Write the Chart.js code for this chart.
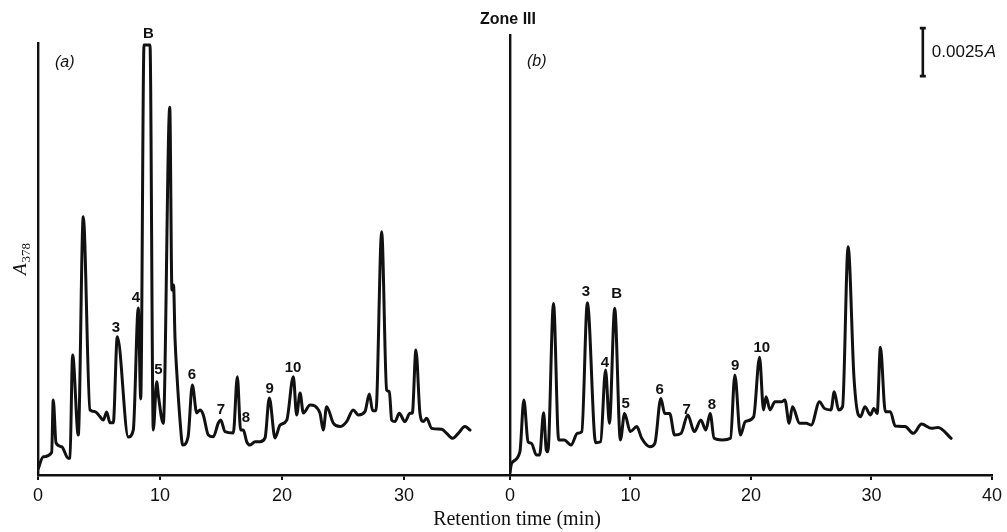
<!DOCTYPE html>
<html>
<head>
<meta charset="utf-8">
<script src="https://cdn.jsdelivr.net/npm/chart.js@4.4.0/dist/chart.umd.min.js"></script>
<style>
  html, body { margin: 0; padding: 0; background: #fff; }
  #wrap { position: relative; width: 1007px; height: 532px; }
  canvas { position: absolute; left: 0; top: 0; }
</style>
</head>
<body>
<div id="wrap">
  <canvas id="chartA" width="1007" height="532"></canvas>
  <canvas id="chartB" width="1007" height="532"></canvas>
</div>
<script>
// retention time (min) and absorbance at 378 nm (x 10^-3 A)
const timeA = [0, 0.43, 1.12, 1.25, 1.48, 1.94, 2.48, 2.62, 2.84, 3.30, 3.71, 4.26, 4.67, 5.08, 5.35, 5.63, 5.90, 6.17,
  6.50, 7.40, 7.81, 8.22, 8.42, 8.69, 9.18, 9.45, 9.73, 9.88, 10.27, 10.80, 10.98, 11.11, 11.23, 11.39, 11.64, 11.86,
  12.30, 12.65, 13.01, 13.28, 13.55, 13.96, 14.37, 14.78, 14.98, 15.33, 16.01, 16.34, 16.61, 16.83, 17.11, 17.38,
  17.79, 18.20, 18.61, 18.96, 19.43, 19.84, 20.39, 20.93, 21.20, 21.48, 21.75, 22.30, 23.11, 23.38, 23.66, 24.20,
  24.75, 25.30, 25.84, 26.25, 26.80, 27.16, 27.43, 27.70, 28.17, 28.58, 28.80, 28.99, 29.26, 29.61, 30.08, 30.49,
  30.68, 30.98, 31.31, 31.58, 31.86, 32.27, 33.09, 33.50, 33.99, 34.45, 35.00, 35.41];
const absA = [0.3, 0.95, 1.18, 3.91, 1.67, 1.47, 0.87, 0.89, 6.25, 2.08, 13.45, 3.39, 3.30, 3.04, 2.86, 3.28, 2.72, 2.72,
  7.20, 1.98, 2.34, 8.70, 3.96, 22.4, 22.4, 2.34, 4.86, 4.07, 2.69, 19.15, 9.64, 9.90, 7.14, 5.21, 2.86, 1.56,
  1.98, 4.69, 3.23, 3.39, 3.13, 2.08, 1.99, 2.71, 2.86, 2.26, 2.19, 5.12, 2.34, 2.34, 1.73, 1.56,
  1.73, 1.73, 1.93, 4.01, 1.93, 2.60, 2.86, 5.12, 3.13, 4.27, 3.23, 3.65, 3.23, 2.34, 3.56, 2.71,
  2.52, 2.78, 3.39, 3.13, 3.30, 4.22, 3.35, 3.35, 12.67, 4.43, 4.34, 2.86, 2.78, 3.21, 2.78, 3.21,
  3.21, 6.51, 3.21, 2.78, 2.95, 2.43, 2.38, 2.17, 1.91, 2.17, 2.52, 2.34];

const timeB = [0, 0.14, 0.82, 1.15, 1.50, 1.78, 2.19, 2.46, 2.79, 3.01, 3.14, 3.61, 4.04, 4.51, 5.06, 5.60, 5.96,
  6.42, 7.11, 7.52, 7.93, 8.25, 8.69, 9.16, 9.51, 9.98, 10.52, 10.93, 11.61, 12.02, 12.52, 12.84, 13.25, 13.66,
  14.20, 14.75, 15.30, 15.84, 16.25, 16.61, 16.94, 17.62, 18.30, 18.66, 19.12, 19.53, 20.22, 20.71, 21.04, 21.25,
  21.58, 21.99, 22.54, 22.81, 23.17, 23.44, 24.04, 24.59, 25.00, 25.68, 26.09, 26.64, 26.91, 27.27, 27.60, 28.06,
  28.55, 28.91, 29.10, 29.45, 29.92, 30.19, 30.47, 30.74, 31.15, 31.56, 31.97, 32.79, 33.47, 34.16, 34.98, 35.52, 36.61];
const absB = [0.16, 0.61, 1.21, 3.91, 1.73, 1.65, 1.04, 1.04, 3.24, 1.30, 1.21, 8.94, 1.82, 1.82, 1.56, 2.17, 2.26,
  8.97, 1.68, 1.73, 5.47, 2.69, 8.68, 1.82, 3.21, 2.26, 2.52, 1.91, 1.47, 1.65, 3.99, 3.21, 3.21, 2.08,
  2.17, 3.13, 2.26, 2.86, 2.34, 3.21, 1.91, 1.82, 1.91, 5.21, 2.08, 2.78, 3.04, 6.13, 3.39, 4.08,
  3.39, 3.82, 3.82, 3.91, 2.69, 3.56, 2.69, 2.69, 2.60, 3.82, 3.47, 3.39, 4.34, 3.39, 3.56, 11.89,
  5.04, 3.13, 3.04, 3.56, 3.13, 3.47, 3.21, 6.65, 3.30, 3.30, 2.55, 2.52, 2.17, 2.66, 2.43, 2.48, 1.91];

const tickValuesA = [0, 10, 20, 30];
const tickValuesB = [0, 10, 20, 30, 40];

// peak labels: name, time (min), level (x 10^-3 A) of the label centre
const peakNamesA = ['B', '3', '4', '5', '6', '7', '8', '9', '10'];
const peakTimesA = [9.06, 6.39, 8.03, 9.88, 12.62, 15.0, 17.05, 18.98, 20.90];
const peakLevelsA = [22.97, 7.66, 9.22, 5.47, 5.21, 3.39, 2.97, 4.48, 5.57];

const peakNamesB = ['3', 'B', '4', '5', '6', '7', '8', '9', '10'];
const peakTimesB = [6.31, 8.85, 7.87, 9.59, 12.42, 14.67, 16.76, 18.69, 20.90];
const peakLevelsB = [9.53, 9.43, 5.83, 3.70, 4.45, 3.39, 3.65, 5.68, 6.64];

// scale bar: 0.0025 A = 2.5 x 10^-3 A
const scaleBarSize = 2.5;
const scaleBarBase = 20.78;
const scaleBarTime = 34.26;

const INK = '#111';
const SANS = '"Liberation Sans", Arial, sans-serif';
const SERIF = '"Liberation Serif", "Times New Roman", serif';

function peakLabelPlugin(names, times, levels, panelName) {
  return {
    id: 'peakLabels',
    afterDraw(chart) {
      const { ctx, scales: { x, y }, chartArea } = chart;
      ctx.save();
      ctx.fillStyle = INK;
      ctx.textAlign = 'center';
      ctx.textBaseline = 'middle';
      ctx.font = 'bold 15px ' + SANS;
      names.forEach((n, i) => {
        ctx.fillText(n, x.getPixelForValue(times[i]), y.getPixelForValue(levels[i]));
      });
      // panel letter
      ctx.font = 'italic 16px ' + SANS;
      ctx.textAlign = 'left';
      ctx.fillText('(' + panelName + ')', chartArea.left + 17, chartArea.top + (panelName === 'a' ? 20 : 27));
      ctx.restore();
    }
  };
}

const extrasA = {
  id: 'extrasA',
  afterDraw(chart) {
    const { ctx } = chart;
    ctx.save();
    ctx.fillStyle = INK;
    ctx.translate(20, 256);
    ctx.rotate(-Math.PI / 2);
    ctx.textBaseline = 'alphabetic';
    ctx.textAlign = 'left';
    ctx.font = 'italic 19px ' + SERIF;
    ctx.fillText('A', -19, 6);
    const w = ctx.measureText('A').width;
    ctx.font = '13px ' + SERIF;
    ctx.fillText('378', -19 + w + 1, 10);
    ctx.restore();
  }
};

const extrasB = {
  id: 'extrasB',
  afterDraw(chart) {
    const { ctx, scales: { x, y } } = chart;
    ctx.save();
    ctx.fillStyle = INK;
    ctx.strokeStyle = INK;
    // figure title and shared axis title
    ctx.textAlign = 'center';
    ctx.textBaseline = 'middle';
    ctx.font = 'bold 16px ' + SANS;
    ctx.fillText('Zone III', 508, 20);
    ctx.font = '20px ' + SERIF;
    ctx.fillText('Retention time (min)', 517, 520);
    // absorbance scale bar
    const bx = x.getPixelForValue(scaleBarTime);
    const y0 = y.getPixelForValue(scaleBarBase);
    const y1 = y.getPixelForValue(scaleBarBase + scaleBarSize);
    ctx.lineWidth = 2.6;
    ctx.beginPath();
    ctx.moveTo(bx, y0); ctx.lineTo(bx, y1);
    ctx.moveTo(bx - 3, y0); ctx.lineTo(bx + 3, y0);
    ctx.moveTo(bx - 3, y1); ctx.lineTo(bx + 3, y1);
    ctx.stroke();
    ctx.textAlign = 'left';
    ctx.textBaseline = 'middle';
    ctx.font = '17px ' + SANS;
    const label = '0.0025';
    ctx.fillText(label, bx + 9, (y0 + y1) / 2);
    const lw = ctx.measureText(label).width;
    ctx.font = 'italic 17px ' + SANS;
    ctx.fillText('A', bx + 9 + lw + 1, (y0 + y1) / 2);
    ctx.restore();
  }
};

function makeChart(id, times, abs, xMax, yMax, padding, tickValues, plugins) {
  const points = times.map((t, i) => ({ x: t, y: abs[i] }));
  return new Chart(document.getElementById(id), {
    type: 'line',
    data: {
      datasets: [{
        data: points,
        borderColor: INK,
        borderWidth: 3,
        pointRadius: 0,
        cubicInterpolationMode: 'monotone',
        borderJoinStyle: 'round',
        borderCapStyle: 'round',
        fill: false
      }]
    },
    options: {
      responsive: false,
      devicePixelRatio: 1,
      animation: false,
      layout: { padding: padding },
      plugins: { legend: { display: false }, tooltip: { enabled: false } },
      scales: {
        x: {
          type: 'linear',
          min: 0,
          max: xMax,
          afterBuildTicks: (s) => { s.ticks = tickValues.map(v => ({ value: v })); },
          afterFit: (s) => { s.height = 57; },
          ticks: {
            color: INK,
            font: { family: SANS, size: 18 },
            padding: 5,
            maxRotation: 0,
            autoSkip: false
          },
          grid: { drawOnChartArea: false, drawTicks: true, tickLength: 5, color: INK, lineWidth: 2 },
          border: { display: true, color: INK, width: 2.4 }
        },
        y: {
          min: 0,
          max: yMax,
          afterFit: (s) => { s.width = 0; },
          ticks: { display: false },
          grid: { display: false },
          border: { display: true, color: INK, width: 2.4 }
        }
      }
    },
    plugins: plugins
  });
}

makeChart('chartA', timeA, absA, 38.69, 22.5, { left: 38, right: 497, top: 43, bottom: 0 }, tickValuesA,
  [peakLabelPlugin(peakNamesA, peakTimesA, peakLevelsA, 'a'), extrasA]);
makeChart('chartB', timeB, absB, 40, 22.92, { left: 510, right: 9, top: 35, bottom: 0 }, tickValuesB,
  [peakLabelPlugin(peakNamesB, peakTimesB, peakLevelsB, 'b'), extrasB]);
</script>
</body>
</html>
